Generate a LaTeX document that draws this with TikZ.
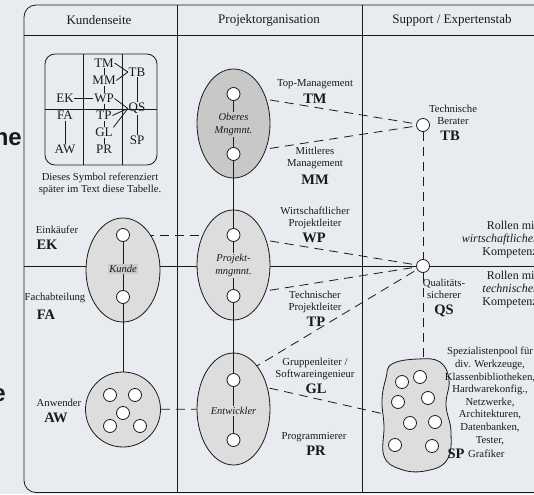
\documentclass[tikz,border=0pt]{standalone}
\usepackage{fontspec}
\setmainfont{Liberation Serif}
\newfontfamily\bgsans{Liberation Sans}
\usetikzlibrary{shapes.geometric}
\definecolor{bg}{HTML}{E8EBEF}
\definecolor{ink}{HTML}{1A1A1A}
\definecolor{ellA}{HTML}{C8C8C8}
\definecolor{ellB}{HTML}{DDDDDD}
\definecolor{kbox}{HTML}{CACACA}
\pgfdeclarelayer{back}
\pgfdeclarelayer{bgl}
\pgfsetlayers{back,bgl,main}
\begin{document}
\begin{tikzpicture}[x=1pt,y=-1pt,
  ln/.style={line width=0.8pt, draw=ink},
  dl/.style={line width=0.8pt, draw=ink, dash pattern=on 9pt off 6pt},
  role/.style={ellipse, draw=ink, line width=0.8pt, fill=ellB, inner sep=0pt},
  dotc/.style={circle, draw=ink, line width=0.8pt, fill=white, minimum size=13pt, inner sep=0pt},
  lab/.style={font=\fontsize{10.7}{12.3}\selectfont, align=center, inner sep=0pt, text=ink},
  big/.style={font=\bfseries\fontsize{14.5}{16}\selectfont, inner sep=0pt, text=ink},
  hdr/.style={font=\fontsize{13}{15}\selectfont, inner sep=0pt, text=ink},
  leg/.style={font=\fontsize{13}{15}\selectfont, inner sep=0.6pt, text=ink},
  ital/.style={font=\itshape\fontsize{10.5}{12.5}\selectfont, align=center, inner sep=1pt, text=ink},
  rol/.style={font=\fontsize{12}{13}\selectfont, align=right, anchor=east, inner sep=0pt, text=ink},
  frag/.style={font=\bgsans\bfseries\fontsize{24}{28}\selectfont, anchor=base east, inner sep=0pt, text=ink}
]
\useasboundingbox (0,0) rectangle (534,494);
\begin{pgfonlayer}{back}
\fill[bg] (0,0) rectangle (534,494);
\end{pgfonlayer}

% background slide fragments
\node[frag] (fragA) at (22,146) {ne};
\node[frag] (fragB) at (6,401) {e};

% table frame
\draw[ln, rounded corners=12pt] (580,5) -- (24,5) -- (24,492.5) -- (580,492.5);
\draw[ln] (24,35) -- (580,35);
\draw[ln] (177,5) -- (177,492.5);
\draw[ln] (362,5) -- (362,492.5);

% headers
\node[hdr] (h1) at (99,20) {Kundenseite};
\node[hdr] (h2) at (269,20) {Projektorganisation};
\node[hdr] (h3) at (452,20) {Support / Expertenstab};

% legend symbol
\draw[ln, rounded corners=10pt] (45,54) rectangle (157,165);
\draw[ln] (83,54) -- (83,165);
\draw[ln] (122,54) -- (122,165);
\draw[ln] (45,109) -- (157,109);
\node[leg] (lTM) at (104,63) {TM};
\node[leg] (lMM) at (104,80.5) {MM};
\node[leg] (lWP) at (104,98.5) {WP};
\node[leg] (lTP) at (104,115.5) {TP};
\node[leg] (lGL) at (104,132.5) {GL};
\node[leg] (lPR) at (104,149.5) {PR};
\node[leg] (lEK) at (65,98.5) {EK};
\node[leg] (lFA) at (65,115.5) {FA};
\node[leg] (lAW) at (65,149.5) {AW};
\node[leg] (lTB) at (137,72) {TB};
\node[leg] (lQS) at (137,108.5) {QS};
\node[leg] (lSP) at (137,140.5) {SP};
\draw[ln] (lTM) -- (lMM);
\draw[ln] (lMM) -- (lWP);
\draw[ln] (lWP) -- (lTP);
\draw[ln] (lTP) -- (lGL);
\draw[ln] (lGL) -- (lPR);
\draw[ln] (lEK) -- (lWP);
\draw[ln] (lFA) -- (lAW);
\draw[ln] (lTB) -- (lQS);
\draw[ln] (lQS) -- (lSP);
\draw[ln] (lTM.east) -- (lTB.west);
\draw[ln] (lMM.east) -- (lTB.west);
\draw[ln] (lWP.east) -- (lQS.west);
\draw[ln] (lTP.east) -- (lQS.west);
\draw[ln] (lGL.north east) -- (lQS.west);
\node[lab] (cap) at (100,184) {Dieses Symbol referenziert\\später im Text diese Tabelle.};

% role groups
\node[role, fill=ellA, minimum width=73, minimum height=109] (om) at (233.5,123.5) {};
\node[role, minimum width=73, minimum height=110] (pm) at (233.5,265) {};
\node[role, minimum width=73, minimum height=112] (ent) at (233.5,409) {};
\node[role, minimum width=74, minimum height=104] (kun) at (123,270) {};
\node[role, circle, minimum size=75] (aw) at (123,409.5) {};
\draw[ln, fill=ellB] plot[smooth cycle, tension=0.7] coordinates {(392,364) (418,359) (440,362) (449,380) (446,405) (451,432) (447,460) (425,471) (400,469) (384,456) (384,426) (382,400) (386,378)};
\coordinate (spL) at (384,414);
\coordinate (spT) at (423,358);

% role circles
\node[dotc] (tm) at (233.5,94) {};
\node[dotc] (mm) at (233.5,154) {};
\node[dotc] (wp) at (233.5,235) {};
\node[dotc] (tp) at (233.5,296) {};
\node[dotc] (gl) at (233.5,380) {};
\node[dotc] (pr) at (233.5,440) {};
\node[dotc] (ek) at (123,235) {};
\node[dotc] (fa) at (123,297) {};
\node[dotc] (tb) at (423,125) {};
\node[dotc] (qs) at (423,266) {};
\node[dotc] (aw1) at (110,395) {};
\node[dotc] (aw2) at (135,395) {};
\node[dotc] (aw3) at (123,413) {};
\node[dotc] (aw4) at (110,426) {};
\node[dotc] (aw5) at (140,426) {};
\node[dotc] (sp1) at (402,382) {};
\node[dotc] (sp2) at (420,377) {};
\node[dotc] (sp3) at (398,402) {};
\node[dotc] (sp4) at (428,398) {};
\node[dotc] (sp5) at (410,423) {};
\node[dotc] (sp6) at (435,422) {};
\node[dotc] (sp7) at (395,445) {};
\node[dotc] (sp8) at (432,446) {};

% solid links
\draw[ln] (tm) -- (mm);
\draw[ln] (mm) -- (wp);
\draw[ln] (wp) -- (tp);
\draw[ln] (tp) -- (gl);
\draw[ln] (gl) -- (pr);
\draw[ln] (ek) -- (fa);
\draw[ln] (fa) -- (aw);

% group labels
\node[ital, fill=ellA] (omL) at (233.5,124.5) {Oberes\\Mngmnt.};
\node[ital, fill=ellB] (pmL) at (233.5,265.5) {Projekt-\\mngmnt.};
\node[ital, fill=ellB] (entL) at (233.5,411) {Entwickler};
\node[ital, fill=kbox] (kunL) at (123,269) {Kunde};

% role texts, left
\node[lab] (tEK) at (57,230) {Einkäufer};
\node[big] (bEK) at (47,245) {EK};
\node[lab] (tFA) at (55,298) {Fachabteilung};
\node[big] (bFA) at (46,315) {FA};
\node[lab] (tAW) at (59,403) {Anwender};
\node[big] (bAW) at (56,418) {AW};

% role texts, middle
\node[lab] (tTM) at (315,84) {Top-Management};
\node[big] (bTM) at (315,98.5) {TM};
\node[lab] (tMM) at (315,158) {Mittleres\\Management};
\node[big] (bMM) at (315,180) {MM};
\node[lab] (tWP) at (315,218) {Wirtschaftlicher\\Projektleiter};
\node[big] (bWP) at (314,238) {WP};
\node[lab] (tTP) at (315,302) {Technischer\\Projektleiter};
\node[big] (bTP) at (316,322) {TP};
\node[lab] (tGL) at (315,369) {Gruppenleiter /\\Softwareingenieur};
\node[big] (bGL) at (316,389) {GL};
\node[lab] (tPR) at (314,437) {Programmierer};
\node[big] (bPR) at (316,451) {PR};

% role texts, right
\node[lab] (tTB) at (453,115) {Technische\\Berater};
\node[big] (bTB) at (450,136) {TB};
\node[lab] (tQS) at (444,289) {Qualitäts-\\sicherer};
\node[big] (bQS) at (444,311) {QS};
\node[lab, font=\fontsize{10.7}{12.6}\selectfont] (tSP) at (490,396) {Spezialistenpool für\\div. Werkzeuge,\\Klassenbibliotheken,\\Hardwarekonfig.,\\Netzwerke,\\Architekturen,\\Datenbanken,\\Tester,};
\node[big] (bSP) at (456,454) {SP};
\node[lab, anchor=west] (tGr) at (468,453.5) {Grafiker};

\node[rol] (rW) at (538,240) {Rollen mit\\\textit{wirtschaftlicher}\\Kompetenz};
\node[rol] (rT) at (538,290) {Rollen mit\\\textit{technischer}\\Kompetenz};

% lines behind
\begin{pgfonlayer}{bgl}
\draw[ln] (24,266) -- (580,266);
\draw[dl] (tm) -- (tb);
\draw[dl] (mm) -- (tb);
\draw[dl] (wp) -- (qs);
\draw[dl] (tp) -- (qs);
\draw[dl] (gl) -- (qs);
\draw[dl] (ek) -- (wp);
\draw[dl] (aw) -- (ent);
\draw[dl] (gl) -- (spL);
\draw[dl] (tb) -- (qs);
\draw[dl] (qs) -- (spT);
\end{pgfonlayer}
\end{tikzpicture}
\end{document}
